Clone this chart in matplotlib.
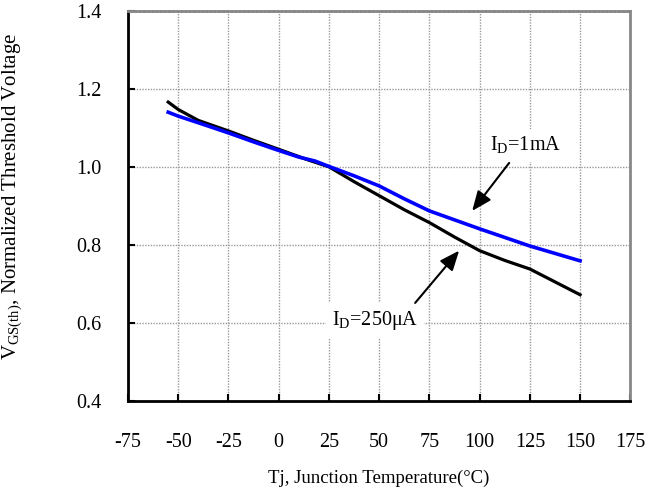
import numpy as np
import matplotlib
matplotlib.use('Agg')
import matplotlib.pyplot as plt

plt.rcParams['font.family'] = 'Liberation Serif'
plt.rcParams['mathtext.fontset'] = 'custom'
plt.rcParams['mathtext.rm'] = 'Liberation Serif'

# Tj (C) vs normalized VGS(th)
t_250ua = [-55, -50, -40, -25, -12.5, 0, 15, 25, 37.5, 50, 62.5, 75, 87.5, 100, 112.5, 125, 137.5, 150]
v_250ua = [1.166, 1.147, 1.119, 1.092, 1.068, 1.045, 1.017, 1.0, 0.962, 0.926, 0.890, 0.857, 0.820, 0.785, 0.760, 0.738, 0.705, 0.672]

t_1ma = [-55, -50, -40, -25, -12.5, 0, 10, 18, 25, 37.5, 50, 62.5, 75, 87.5, 100, 112.5, 125, 137.5, 150]
v_1ma = [1.140, 1.130, 1.113, 1.087, 1.064, 1.042, 1.025, 1.015, 1.001, 0.977, 0.951, 0.918, 0.887, 0.864, 0.841, 0.819, 0.797, 0.778, 0.759]

xticks = [-75, -50, -25, 0, 25, 50, 75, 100, 125, 150, 175]
yticks = [0.4, 0.6, 0.8, 1.0, 1.2, 1.4]

fig = plt.figure(figsize=(6.6, 4.93), dpi=100)
ax = fig.add_axes([0.194, 0.187, 0.761, 0.791])

ax.plot(t_250ua, v_250ua, color='black', lw=2.3, zorder=3)
ax.plot(t_1ma, v_1ma, color='#0000ff', lw=2.6, zorder=4)

ax.set_xlim(-75, 175)
ax.set_ylim(0.4, 1.4)
ax.set_xticks(xticks)
ax.set_yticks(yticks)
ax.set_xticklabels([str(t) for t in xticks])
ax.set_yticklabels(['%.1f' % v for v in yticks])
ax.tick_params(direction='in', length=5, width=1.5, labelsize=14.5, color='black')
ax.tick_params(axis='x', pad=23)
ax.tick_params(axis='y', pad=19)

ax.grid(True, color='#999999', lw=1.0, linestyle=(0, (1, 1)), zorder=1)
ax.set_axisbelow(True)

ax.spines['left'].set_linewidth(2)
ax.spines['bottom'].set_linewidth(2)
ax.spines['top'].set_color('#888888')
ax.spines['top'].set_linewidth(2)
ax.spines['top'].set_linestyle((0, (1, 0.5)))
ax.spines['right'].set_color('#888888')
ax.spines['right'].set_linewidth(2)

ax.set_xlabel('Tj, Junction Temperature(°C)', fontsize=13.5, labelpad=13)
ax.set_ylabel(r'V$_{\mathrm{GS(th)}}$, Normalized Threshold Voltage', fontsize=15)
ax.yaxis.set_label_coords(-0.205, 0.525)

box = dict(boxstyle='square,pad=0.3', fc='white', ec='none')
arrow = dict(arrowstyle='-|>,head_length=1.2,head_width=0.5', color='black', lw=1.5, shrinkA=0, shrinkB=0)

ax.text(123, 1.054, r'I$_{\mathrm{D}}$=1mA', ha='center', va='center',
        fontsize=14.5, bbox=box, zorder=5)
ax.annotate('', xy=(96.3, 0.887), xytext=(114.7, 1.010), arrowprops=arrow, zorder=5)

ax.text(48, 0.605, r'I$_{\mathrm{D}}$=250μA', ha='center', va='center',
        fontsize=14.5, bbox=box, zorder=5)
ax.annotate('', xy=(89.8, 0.785), xytext=(67.9, 0.651), arrowprops=arrow, zorder=5)

fig.savefig('out.png', dpi=100)
